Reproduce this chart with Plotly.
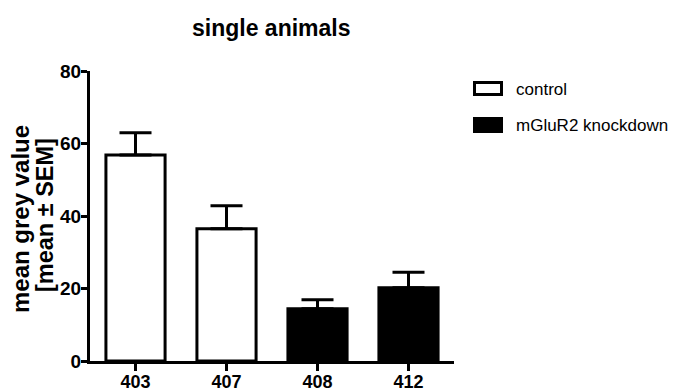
import plotly.graph_objects as go

# ---- data ----
categories = ["403", "407", "408", "412"]
control_animals = ["403", "407"]
control_means = [56.8, 36.5]
control_sem = [6.2, 6.3]
kd_animals = ["408", "412"]
kd_means = [14.4, 20.2]
kd_sem = [2.5, 4.3]
y_ticks = [0, 20, 40, 60, 80]
title_text = "single animals"
y_title_1 = "mean grey value"
y_title_2 = "[mean ± SEM]"
legend_labels = ["control", "mGluR2 knockdown"]

FONT = "Arial, Liberation Sans, sans-serif"
OFF = 8  # page body offset
W, H = 690, 392
# target plot area on screen: x 90..454, y 71..361
L, T = 90 - OFF, 71 - OFF
R = W - (454 - OFF)
B = H - (361 - OFF)
pw, ph = W - L - R, H - T - B


def px(x):
    return (x - OFF - L) / pw


def py(y):
    return (H - B - (y - OFF)) / ph


fig = go.Figure()
fig.add_trace(go.Bar(
    x=control_animals, y=control_means, width=0.65,
    marker=dict(color="white", line=dict(color="black", width=3)),
    error_y=dict(type="data", array=control_sem, arrayminus=[0] * len(control_sem),
                 symmetric=False, color="black", thickness=3, width=16),
    name=legend_labels[0], showlegend=False,
))
fig.add_trace(go.Bar(
    x=kd_animals, y=kd_means, width=0.65,
    marker=dict(color="black", line=dict(color="black", width=3)),
    error_y=dict(type="data", array=kd_sem, arrayminus=[0] * len(kd_sem),
                 symmetric=False, color="black", thickness=3, width=16),
    name=legend_labels[1], showlegend=False,
))

fig.update_layout(
    width=W, height=H,
    margin=dict(l=L, r=R, t=T, b=B, pad=0, autoexpand=False),
    paper_bgcolor="white", plot_bgcolor="white",
    barmode="overlay",
    showlegend=False,
    font=dict(family=FONT, color="black"),
    xaxis=dict(type="category", categoryorder="array", categoryarray=categories,
               range=[-0.5, 3.5], showline=True, linecolor="black", linewidth=3,
               ticks="outside", ticklen=7, tickwidth=2.5, tickcolor="black",
               ticklabelstandoff=-5,
               showgrid=False, zeroline=False, automargin=False,
               tickfont=dict(family=FONT, size=18, color="black", weight="bold")),
    yaxis=dict(range=[0, 80], tickvals=y_ticks, showline=True, linecolor="black",
               linewidth=3, ticks="outside", ticklen=6, tickwidth=3, tickcolor="black",
               ticklabelstandoff=-4,
               showgrid=False, zeroline=False, automargin=False,
               tickfont=dict(family=FONT, size=19, color="black", weight="bold")),
)

ann = []
ann.append(dict(text=title_text, xref="paper", yref="paper", x=px(271), y=py(28.5),
                xanchor="center", yanchor="middle", showarrow=False,
                font=dict(family=FONT, size=23, color="black", weight="bold")))
ann.append(dict(text=y_title_1, xref="paper", yref="paper", x=px(20), y=py(219),
                xanchor="center", yanchor="middle", showarrow=False, textangle=-90,
                font=dict(family=FONT, size=24, color="black", weight="bold")))
ann.append(dict(text=y_title_2, xref="paper", yref="paper", x=px(45), y=py(215),
                xanchor="center", yanchor="middle", showarrow=False, textangle=-90,
                font=dict(family=FONT, size=23.5, color="black", weight="bold")))
ann.append(dict(text=legend_labels[0], xref="paper", yref="paper", x=px(514), y=py(89),
                xanchor="left", yanchor="middle", showarrow=False,
                font=dict(family=FONT, size=17, color="black")))
ann.append(dict(text=legend_labels[1], xref="paper", yref="paper", x=px(514), y=py(125),
                xanchor="left", yanchor="middle", showarrow=False,
                font=dict(family=FONT, size=17, color="black")))
fig.update_layout(annotations=ann)

shapes = [
    dict(type="rect", xref="paper", yref="paper", x0=px(474.5), x1=px(501.5),
         y0=py(82.5), y1=py(94.5), line=dict(color="black", width=3), fillcolor="white"),
    dict(type="rect", xref="paper", yref="paper", x0=px(473), x1=px(503),
         y0=py(117), y1=py(133), line=dict(color="black", width=0), fillcolor="black"),
]
fig.update_layout(shapes=shapes)

fig.write_html("out.html")
